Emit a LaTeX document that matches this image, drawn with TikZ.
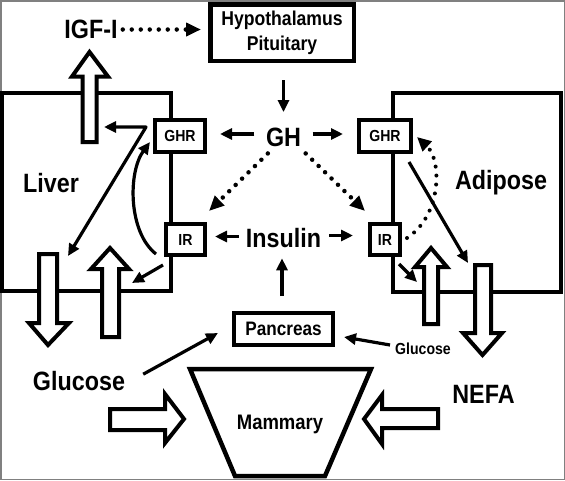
\documentclass[tikz,border=0pt]{standalone}
\usepackage{fontspec}
\setmainfont{Liberation Sans}
\usetikzlibrary{arrows.meta,calc}
\newcommand\nt[1]{\scalebox{0.88}[1]{#1}}
\begin{document}
\begin{tikzpicture}[x=1pt,y=-1pt,
  big/.style={font=\bfseries\fontsize{26.5}{26.5}\selectfont, inner sep=0pt, text depth=0pt},
  small/.style={font=\bfseries\fontsize{16}{16}\selectfont, inner sep=0pt, text depth=0pt},
  box/.style={draw, line width=4pt, fill=white, inner sep=0pt, font=\bfseries\fontsize{16}{16}\selectfont},
  organ/.style={draw, line width=4pt},
  blk/.style={draw, line width=4pt, fill=white, line join=miter},
  arr/.style={line width=3.2pt, -{Triangle[length=12pt,width=11pt]}},
  arrtwo/.style={line width=3.2pt, line join=round, {Triangle[length=12pt,width=11pt]}-{Triangle[length=12pt,width=11pt]}},
  dotarr/.style={line width=4.5pt, line cap=round, dash pattern=on 0pt off 9pt, -{Triangle[length=15pt,width=13pt]}},
]
\useasboundingbox (0,0) rectangle (565,480);
% frame
\draw[gray, line width=1.5pt] (0.75,0.75) rectangle (564.25,479.25);
% organs
\draw[organ] (2,92.5) rectangle (170.5,291.3);
\draw[organ] (393,93) rectangle (561,291.7);
% block arrows
\draw[blk] (82.5,142) -- (82.5,76.5) -- (72,76.5) -- (89.5,52) -- (108,76.5) -- (96.5,76.5) -- (96.5,142) -- cycle;
\draw[blk] (39,254) -- (39,323) -- (29,323) -- (48,345) -- (69,323) -- (57,323) -- (57,254) -- cycle;
\draw[blk] (102,337) -- (102,269) -- (91,269) -- (110,248) -- (129,269) -- (119,269) -- (119,337) -- cycle;
\draw[blk] (424,324) -- (424,267) -- (415,267) -- (431,248) -- (447,267) -- (438,267) -- (438,324) -- cycle;
\draw[blk] (475,265) -- (475,333) -- (463,333) -- (482.5,355) -- (502,333) -- (491,333) -- (491,265) -- cycle;
\draw[blk] (110,409) -- (165,409) -- (165,394) -- (184,419) -- (165,443) -- (165,430) -- (110,430) -- cycle;
\draw[blk] (438,409) -- (382,409) -- (382,395) -- (364,419) -- (382,444) -- (382,428) -- (438,428) -- cycle;
% mammary gland
\draw[line width=4.5pt, line join=miter] (190,369) -- (371,369) -- (325,476) -- (235,476) -- cycle;
% boxes
\node[box, line width=4.5pt, minimum width=143.5pt, minimum height=56.5pt, align=center,
      font=\bfseries\fontsize{20}{25}\selectfont] (hyp) at (282,32.5) {\nt{Hypothalamus}\\\nt{Pituitary}};
\node[box, minimum width=50pt, minimum height=32pt] (ghrL) at (180,136) {\nt{GHR}};
\node[box, minimum width=39pt, minimum height=31pt] (irL) at (185.5,239.5) {\nt{IR}};
\node[box, minimum width=52pt, minimum height=32pt] (ghrR) at (385,136) {\nt{GHR}};
\node[box, minimum width=30pt, minimum height=31pt] (irR) at (385,239.5) {\nt{IR}};
\node[box, minimum width=99pt, minimum height=32pt, font=\bfseries\fontsize{19.5}{19.5}\selectfont] (panc) at (283.5,329) {\nt{Pancreas}};
% texts
\node[big] (igf) at (91,29.5) {\nt{IGF-I}};
\node[big] (gh) at (283.5,137) {\nt{GH}};
\node[big] (ins) at (283.5,237.5) {\nt{Insulin}};
\node[big] (liver) at (51,183) {\nt{Liver}};
\node[big] (adi) at (501,180) {\nt{Adipose}};
\node[big] (gluL) at (79,381) {\nt{Glucose}};
\node[big] (nefa) at (483.5,394.5) {\nt{NEFA}};
\node[small] (gluR) at (423,349) {\nt{Glucose}};
\node[font=\bfseries\fontsize{21}{21}\selectfont, inner sep=0pt, text depth=0pt] (mam) at (280,422.5) {\nt{Mammary}};
% free ends
\coordinate (lc) at ($(ghrL.west)+(-7,-9)$);
\coordinate (igfTip) at (104,127);
\coordinate (glcTip) at (68,256);
\coordinate (livIn) at (132,283);
\coordinate (nefaTip) at (468,263);
\coordinate (adiIn) at (417,282);
% connectors
\draw[dotarr, shorten <=5pt, shorten >=7pt] (igf.east) -- (igf.east -| hyp.west);
\draw[arr, shorten <=17pt, shorten >=15.5pt] (hyp.south -| gh.north) -- (gh.north);
\draw[arr, shorten <=11.5pt, shorten >=13pt] ([yshift=3pt]gh.west) -- ([yshift=3pt]gh.west -| ghrL.east);
\draw[arr, shorten <=11.5pt, shorten >=14pt] ([yshift=3pt]gh.east) -- ([yshift=3pt]gh.east -| ghrR.west);
\draw[dotarr] ($(gh.south west)+(2,7)$) -- ($(irL.north east)+(2,-11)$);
\draw[dotarr] ($(gh.south east)+(4.5,7)$) -- ($(irR.north west)+(-3,-11)$);
\draw[arr, shorten <=7pt, shorten >=8pt] ([yshift=1pt]ins.west) -- ([yshift=1pt]ins.west -| irL.east);
\draw[arr, shorten <=8pt, shorten >=15pt] ([yshift=2pt]ins.east) -- ([yshift=2pt]ins.east -| irR.west);
\draw[arr, shorten <=15pt, shorten >=11pt] ([xshift=-1.5pt]panc.north) -- ([xshift=-1.5pt]panc.north |- ins.south);
\draw[arr] ($(gluL.north east)+(18,3)$) -- ($(panc.west)+(-14,4)$);
\draw[arr] ($(gluR.west)+(-5,-4)$) -- ($(panc.east)+(9,8)$);
% liver internal
\draw[arrtwo] (igfTip) -- (lc) -- (glcTip);
\draw[arr] ($(irL.south west)+(-8,-3)$) .. controls +(-28,-22) and +(-22,30) .. ($(ghrL.south west)+(-3,-12)$);
\draw[arr] ($(irL.south west)+(-1,8)$) -- (livIn);
% adipose internal
\draw[line width=4pt, line cap=round, dash pattern=on 0pt off 9pt, -{Triangle[length=14pt,width=13pt]}]
  ($(irR.east)+(5,-1.5)$) .. controls +(35,-23) and +(25,23) .. ($(ghrR.east)+(4,1)$);
\draw[arr] ($(ghrR.south east)+(-4,8)$) -- (nefaTip);
\draw[arr] ($(irR.south east)+(-3,7)$) -- (adiIn);
\end{tikzpicture}
\end{document}
